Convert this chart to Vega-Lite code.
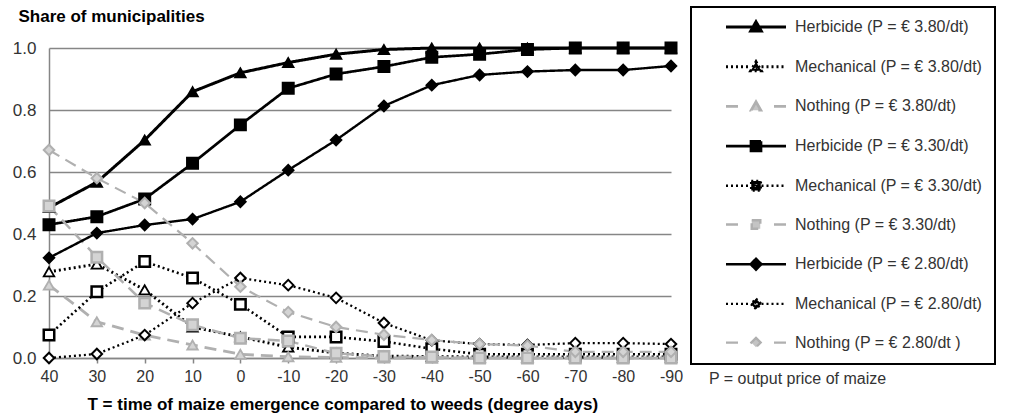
{
  "$schema": "https://vega.github.io/schema/vega-lite/v6.json",
  "width": 622,
  "height": 310,
  "autosize": {"type": "none"},
  "padding": {"left": 49, "top": 48, "right": 355, "bottom": 61},
  "background": "white",
  "config": {
    "font": "Liberation Sans",
    "view": {"stroke": null},
    "legend": {
      "orient": "none",
      "legendX": 642,
      "legendY": -41,
      "labelFontSize": 16,
      "labelFont": "Liberation Sans",
      "labelColor": "#333333",
      "labelOffset": 76,
      "labelLimit": 400,
      "symbolSize": 100,
      "rowPadding": 18.7,
      "padding": 12,
      "strokeColor": "black",
      "strokeWidth": 2,
      "fillColor": "white"
    }
  },
  "title": {
    "text": "P = output price of maize",
    "orient": "bottom",
    "anchor": "start",
    "frame": "group",
    "dx": 660,
    "dy": -45,
    "fontSize": 16,
    "fontWeight": "normal",
    "color": "#333333",
    "font": "Liberation Sans"
  },
  "data": {
    "values": [
      {"series": "Herbicide (P = € 3.80/dt)", "T": 40, "share": 0.485},
      {"series": "Herbicide (P = € 3.80/dt)", "T": 30, "share": 0.567},
      {"series": "Herbicide (P = € 3.80/dt)", "T": 20, "share": 0.703},
      {"series": "Herbicide (P = € 3.80/dt)", "T": 10, "share": 0.859},
      {"series": "Herbicide (P = € 3.80/dt)", "T": 0, "share": 0.92},
      {"series": "Herbicide (P = € 3.80/dt)", "T": -10, "share": 0.953},
      {"series": "Herbicide (P = € 3.80/dt)", "T": -20, "share": 0.98},
      {"series": "Herbicide (P = € 3.80/dt)", "T": -30, "share": 0.995},
      {"series": "Herbicide (P = € 3.80/dt)", "T": -40, "share": 1.0},
      {"series": "Herbicide (P = € 3.80/dt)", "T": -50, "share": 1.0},
      {"series": "Herbicide (P = € 3.80/dt)", "T": -60, "share": 1.0},
      {"series": "Herbicide (P = € 3.80/dt)", "T": -70, "share": 1.0},
      {"series": "Herbicide (P = € 3.80/dt)", "T": -80, "share": 1.0},
      {"series": "Herbicide (P = € 3.80/dt)", "T": -90, "share": 1.0},
      {"series": "Mechanical (P = € 3.80/dt)", "T": 40, "share": 0.278},
      {"series": "Mechanical (P = € 3.80/dt)", "T": 30, "share": 0.303},
      {"series": "Mechanical (P = € 3.80/dt)", "T": 20, "share": 0.22},
      {"series": "Mechanical (P = € 3.80/dt)", "T": 10, "share": 0.1},
      {"series": "Mechanical (P = € 3.80/dt)", "T": 0, "share": 0.068},
      {"series": "Mechanical (P = € 3.80/dt)", "T": -10, "share": 0.035},
      {"series": "Mechanical (P = € 3.80/dt)", "T": -20, "share": 0.016},
      {"series": "Mechanical (P = € 3.80/dt)", "T": -30, "share": 0.006},
      {"series": "Mechanical (P = € 3.80/dt)", "T": -40, "share": 0.005},
      {"series": "Mechanical (P = € 3.80/dt)", "T": -50, "share": 0.003},
      {"series": "Mechanical (P = € 3.80/dt)", "T": -60, "share": 0.003},
      {"series": "Mechanical (P = € 3.80/dt)", "T": -70, "share": 0.003},
      {"series": "Mechanical (P = € 3.80/dt)", "T": -80, "share": 0.003},
      {"series": "Mechanical (P = € 3.80/dt)", "T": -90, "share": 0.003},
      {"series": "Nothing (P = € 3.80/dt)", "T": 40, "share": 0.235},
      {"series": "Nothing (P = € 3.80/dt)", "T": 30, "share": 0.117},
      {"series": "Nothing (P = € 3.80/dt)", "T": 20, "share": 0.074},
      {"series": "Nothing (P = € 3.80/dt)", "T": 10, "share": 0.042},
      {"series": "Nothing (P = € 3.80/dt)", "T": 0, "share": 0.012},
      {"series": "Nothing (P = € 3.80/dt)", "T": -10, "share": 0.004},
      {"series": "Nothing (P = € 3.80/dt)", "T": -20, "share": 0.002},
      {"series": "Nothing (P = € 3.80/dt)", "T": -30, "share": 0},
      {"series": "Nothing (P = € 3.80/dt)", "T": -40, "share": 0},
      {"series": "Nothing (P = € 3.80/dt)", "T": -50, "share": 0},
      {"series": "Nothing (P = € 3.80/dt)", "T": -60, "share": 0},
      {"series": "Nothing (P = € 3.80/dt)", "T": -70, "share": 0},
      {"series": "Nothing (P = € 3.80/dt)", "T": -80, "share": 0},
      {"series": "Nothing (P = € 3.80/dt)", "T": -90, "share": 0},
      {"series": "Herbicide (P = € 3.30/dt)", "T": 40, "share": 0.43},
      {"series": "Herbicide (P = € 3.30/dt)", "T": 30, "share": 0.456},
      {"series": "Herbicide (P = € 3.30/dt)", "T": 20, "share": 0.513},
      {"series": "Herbicide (P = € 3.30/dt)", "T": 10, "share": 0.628},
      {"series": "Herbicide (P = € 3.30/dt)", "T": 0, "share": 0.752},
      {"series": "Herbicide (P = € 3.30/dt)", "T": -10, "share": 0.87},
      {"series": "Herbicide (P = € 3.30/dt)", "T": -20, "share": 0.916},
      {"series": "Herbicide (P = € 3.30/dt)", "T": -30, "share": 0.94},
      {"series": "Herbicide (P = € 3.30/dt)", "T": -40, "share": 0.97},
      {"series": "Herbicide (P = € 3.30/dt)", "T": -50, "share": 0.98},
      {"series": "Herbicide (P = € 3.30/dt)", "T": -60, "share": 0.995},
      {"series": "Herbicide (P = € 3.30/dt)", "T": -70, "share": 1.0},
      {"series": "Herbicide (P = € 3.30/dt)", "T": -80, "share": 1.0},
      {"series": "Herbicide (P = € 3.30/dt)", "T": -90, "share": 1.0},
      {"series": "Mechanical (P = € 3.30/dt)", "T": 40, "share": 0.074},
      {"series": "Mechanical (P = € 3.30/dt)", "T": 30, "share": 0.214},
      {"series": "Mechanical (P = € 3.30/dt)", "T": 20, "share": 0.311},
      {"series": "Mechanical (P = € 3.30/dt)", "T": 10, "share": 0.258},
      {"series": "Mechanical (P = € 3.30/dt)", "T": 0, "share": 0.173},
      {"series": "Mechanical (P = € 3.30/dt)", "T": -10, "share": 0.068},
      {"series": "Mechanical (P = € 3.30/dt)", "T": -20, "share": 0.068},
      {"series": "Mechanical (P = € 3.30/dt)", "T": -30, "share": 0.053},
      {"series": "Mechanical (P = € 3.30/dt)", "T": -40, "share": 0.03},
      {"series": "Mechanical (P = € 3.30/dt)", "T": -50, "share": 0.012},
      {"series": "Mechanical (P = € 3.30/dt)", "T": -60, "share": 0.012},
      {"series": "Mechanical (P = € 3.30/dt)", "T": -70, "share": 0.012},
      {"series": "Mechanical (P = € 3.30/dt)", "T": -80, "share": 0.012},
      {"series": "Mechanical (P = € 3.30/dt)", "T": -90, "share": 0.012},
      {"series": "Nothing (P = € 3.30/dt)", "T": 40, "share": 0.49},
      {"series": "Nothing (P = € 3.30/dt)", "T": 30, "share": 0.325},
      {"series": "Nothing (P = € 3.30/dt)", "T": 20, "share": 0.177},
      {"series": "Nothing (P = € 3.30/dt)", "T": 10, "share": 0.107},
      {"series": "Nothing (P = € 3.30/dt)", "T": 0, "share": 0.064},
      {"series": "Nothing (P = € 3.30/dt)", "T": -10, "share": 0.055},
      {"series": "Nothing (P = € 3.30/dt)", "T": -20, "share": 0.015},
      {"series": "Nothing (P = € 3.30/dt)", "T": -30, "share": 0.005},
      {"series": "Nothing (P = € 3.30/dt)", "T": -40, "share": 0.003},
      {"series": "Nothing (P = € 3.30/dt)", "T": -50, "share": 0},
      {"series": "Nothing (P = € 3.30/dt)", "T": -60, "share": 0},
      {"series": "Nothing (P = € 3.30/dt)", "T": -70, "share": 0},
      {"series": "Nothing (P = € 3.30/dt)", "T": -80, "share": 0},
      {"series": "Nothing (P = € 3.30/dt)", "T": -90, "share": 0},
      {"series": "Herbicide (P = € 2.80/dt)", "T": 40, "share": 0.323},
      {"series": "Herbicide (P = € 2.80/dt)", "T": 30, "share": 0.403},
      {"series": "Herbicide (P = € 2.80/dt)", "T": 20, "share": 0.429},
      {"series": "Herbicide (P = € 2.80/dt)", "T": 10, "share": 0.448},
      {"series": "Herbicide (P = € 2.80/dt)", "T": 0, "share": 0.504},
      {"series": "Herbicide (P = € 2.80/dt)", "T": -10, "share": 0.606},
      {"series": "Herbicide (P = € 2.80/dt)", "T": -20, "share": 0.703},
      {"series": "Herbicide (P = € 2.80/dt)", "T": -30, "share": 0.813},
      {"series": "Herbicide (P = € 2.80/dt)", "T": -40, "share": 0.88},
      {"series": "Herbicide (P = € 2.80/dt)", "T": -50, "share": 0.913},
      {"series": "Herbicide (P = € 2.80/dt)", "T": -60, "share": 0.924},
      {"series": "Herbicide (P = € 2.80/dt)", "T": -70, "share": 0.929},
      {"series": "Herbicide (P = € 2.80/dt)", "T": -80, "share": 0.929},
      {"series": "Herbicide (P = € 2.80/dt)", "T": -90, "share": 0.942},
      {"series": "Mechanical (P = € 2.80/dt)", "T": 40, "share": 0},
      {"series": "Mechanical (P = € 2.80/dt)", "T": 30, "share": 0.013},
      {"series": "Mechanical (P = € 2.80/dt)", "T": 20, "share": 0.074},
      {"series": "Mechanical (P = € 2.80/dt)", "T": 10, "share": 0.177},
      {"series": "Mechanical (P = € 2.80/dt)", "T": 0, "share": 0.258},
      {"series": "Mechanical (P = € 2.80/dt)", "T": -10, "share": 0.235},
      {"series": "Mechanical (P = € 2.80/dt)", "T": -20, "share": 0.194},
      {"series": "Mechanical (P = € 2.80/dt)", "T": -30, "share": 0.113},
      {"series": "Mechanical (P = € 2.80/dt)", "T": -40, "share": 0.057},
      {"series": "Mechanical (P = € 2.80/dt)", "T": -50, "share": 0.045},
      {"series": "Mechanical (P = € 2.80/dt)", "T": -60, "share": 0.042},
      {"series": "Mechanical (P = € 2.80/dt)", "T": -70, "share": 0.048},
      {"series": "Mechanical (P = € 2.80/dt)", "T": -80, "share": 0.048},
      {"series": "Mechanical (P = € 2.80/dt)", "T": -90, "share": 0.045},
      {"series": "Nothing (P = € 2.80/dt )", "T": 40, "share": 0.671},
      {"series": "Nothing (P = € 2.80/dt )", "T": 30, "share": 0.58},
      {"series": "Nothing (P = € 2.80/dt )", "T": 20, "share": 0.5},
      {"series": "Nothing (P = € 2.80/dt )", "T": 10, "share": 0.37},
      {"series": "Nothing (P = € 2.80/dt )", "T": 0, "share": 0.23},
      {"series": "Nothing (P = € 2.80/dt )", "T": -10, "share": 0.148},
      {"series": "Nothing (P = € 2.80/dt )", "T": -20, "share": 0.1},
      {"series": "Nothing (P = € 2.80/dt )", "T": -30, "share": 0.075},
      {"series": "Nothing (P = € 2.80/dt )", "T": -40, "share": 0.058},
      {"series": "Nothing (P = € 2.80/dt )", "T": -50, "share": 0.045},
      {"series": "Nothing (P = € 2.80/dt )", "T": -60, "share": 0.04},
      {"series": "Nothing (P = € 2.80/dt )", "T": -70, "share": 0.02},
      {"series": "Nothing (P = € 2.80/dt )", "T": -80, "share": 0.02},
      {"series": "Nothing (P = € 2.80/dt )", "T": -90, "share": 0.02}
    ]
  },
  "layer": [
    {
      "transform": [{"filter": {"field": "series", "equal": "none"}}],
      "mark": {"type": "point", "opacity": 1},
      "encoding": {
        "shape": {
          "field": "series", "type": "nominal",
          "scale": {
            "domain": ["Herbicide (P = € 3.80/dt)", "Mechanical (P = € 3.80/dt)", "Nothing (P = € 3.80/dt)", "Herbicide (P = € 3.30/dt)", "Mechanical (P = € 3.30/dt)", "Nothing (P = € 3.30/dt)", "Herbicide (P = € 2.80/dt)", "Mechanical (P = € 2.80/dt)", "Nothing (P = € 2.80/dt )"],
            "range": [
              "M3,0H15M9,-1.05L10.05,0.8L7.95,0.8Z",
              "M3,0H7.9M10.1,0H15M9,-1L10.05,0.8L7.95,0.8ZM9,-0.2L8.65,0.45L9.35,0.45Z",
              "M3,0H6.8M12.6,0H15M9,-0.9L9.95,0.75L8.05,0.75Z",
              "M3,0H15M8,-0.95H10V0.95H8Z",
              "M3,0H7.9M10.1,0H15M8.05,-0.95H9.95V0.95H8.05ZM8.75,-0.25V0.25H9.25V-0.25Z",
              "M3,0H6.8M12.6,0H15M8.15,-0.85H9.85V0.85H8.15Z",
              "M3,0H15M9,-1.1L10.1,0L9,1.1L7.9,0Z",
              "M3,0H7.9M10.1,0H15M9,-1.05L10.05,0L9,1.05L7.95,0ZM9,-0.4L8.6,0L9,0.4L9.4,0Z",
              "M3,0H6.8M12.6,0H15M9,-0.95L9.95,0L9,0.95L8.05,0Z"
            ]
          },
          "legend": {"orient": "none", "legendX": 642, "legendY": -41, "title": null}
        },
        "stroke": {
          "field": "series", "type": "nominal",
          "scale": {
            "domain": ["Herbicide (P = € 3.80/dt)", "Mechanical (P = € 3.80/dt)", "Nothing (P = € 3.80/dt)", "Herbicide (P = € 3.30/dt)", "Mechanical (P = € 3.30/dt)", "Nothing (P = € 3.30/dt)", "Herbicide (P = € 2.80/dt)", "Mechanical (P = € 2.80/dt)", "Nothing (P = € 2.80/dt )"],
            "range": ["#000000", "#000000", "#b0b0b0", "#000000", "#000000", "#b0b0b0", "#000000", "#000000", "#b0b0b0"]
          },
          "legend": {"orient": "none", "legendX": 642, "legendY": -41, "title": null}
        },
        "fill": {
          "field": "series", "type": "nominal",
          "scale": {
            "domain": ["Herbicide (P = € 3.80/dt)", "Mechanical (P = € 3.80/dt)", "Nothing (P = € 3.80/dt)", "Herbicide (P = € 3.30/dt)", "Mechanical (P = € 3.30/dt)", "Nothing (P = € 3.30/dt)", "Herbicide (P = € 2.80/dt)", "Mechanical (P = € 2.80/dt)", "Nothing (P = € 2.80/dt )"],
            "range": ["#000000", "#000000", "#c4c4c4", "#000000", "#000000", "#c4c4c4", "#000000", "#000000", "#c4c4c4"]
          },
          "legend": {"orient": "none", "legendX": 642, "legendY": -41, "title": null}
        },
        "strokeDash": {
          "field": "series", "type": "nominal",
          "scale": {
            "domain": ["Herbicide (P = € 3.80/dt)", "Mechanical (P = € 3.80/dt)", "Nothing (P = € 3.80/dt)", "Herbicide (P = € 3.30/dt)", "Mechanical (P = € 3.30/dt)", "Nothing (P = € 3.30/dt)", "Herbicide (P = € 2.80/dt)", "Mechanical (P = € 2.80/dt)", "Nothing (P = € 2.80/dt )"],
            "range": [[1, 0], [2, 3], [12, 7], [1, 0], [2, 3], [12, 7], [1, 0], [2, 3], [12, 7]]
          },
          "legend": {"orient": "none", "legendX": 642, "legendY": -41, "title": null}
        },
        "strokeWidth": {
          "field": "series", "type": "nominal",
          "scale": {
            "domain": ["Herbicide (P = € 3.80/dt)", "Mechanical (P = € 3.80/dt)", "Nothing (P = € 3.80/dt)", "Herbicide (P = € 3.30/dt)", "Mechanical (P = € 3.30/dt)", "Nothing (P = € 3.30/dt)", "Herbicide (P = € 2.80/dt)", "Mechanical (P = € 2.80/dt)", "Nothing (P = € 2.80/dt )"],
            "range": [3, 2.2, 3.5, 3, 2.2, 3.5, 3, 2.2, 3.5]
          },
          "legend": {"orient": "none", "legendX": 642, "legendY": -41, "title": null}
        }
      }
    },
    {
      "mark": {"type": "line"},
      "encoding": {
        "x": {
          "field": "T", "type": "ordinal",
          "sort": [40, 30, 20, 10, 0, -10, -20, -30, -40, -50, -60, -70, -80, -90],
          "scale": {"type": "point", "padding": 0},
          "axis": {
            "title": "T = time of maize emergence compared to weeds (degree days)",
            "titleFontSize": 17, "titleFontWeight": "bold", "titleColor": "black",
            "titleAlign": "left", "titleX": 38, "titleY": 46, "titleBaseline": "middle",
            "labelFontSize": 16, "labelColor": "#333333", "labelPadding": 5, "labelAngle": 0,
            "tickSize": 5, "tickColor": "#868686", "tickWidth": 1.5,
            "domainColor": "#868686", "domainWidth": 1.5, "grid": false
          }
        },
        "y": {
          "field": "share", "type": "quantitative",
          "scale": {"domain": [0, 1]},
          "axis": {
            "title": "Share of municipalities",
            "titleAngle": 0, "titleAlign": "left", "titleBaseline": "middle",
            "titleX": -31, "titleY": -32,
            "titleFontSize": 17, "titleFontWeight": "bold", "titleColor": "black",
            "values": [0, 0.2, 0.4, 0.6, 0.8, 1.0], "format": ".1f",
            "labelFontSize": 17, "labelColor": "#333333", "labelPadding": 13,
            "ticks": false, "domainColor": "#868686", "domainWidth": 1.5,
            "gridColor": "#868686", "gridWidth": 1.5
          }
        },
        "stroke": {"field": "series", "type": "nominal"},
        "strokeDash": {"field": "series", "type": "nominal"},
        "strokeWidth": {"field": "series", "type": "nominal"}
      }
    },
    {
      "transform": [{"filter": {"field": "series", "oneOf": ["Herbicide (P = € 3.80/dt)", "Mechanical (P = € 3.80/dt)", "Nothing (P = € 3.80/dt)"]}}],
      "mark": {"type": "point", "shape": "triangle-up", "size": 110, "strokeWidth": 1.8, "opacity": 1, "filled": true},
      "encoding": {
        "x": {"field": "T", "type": "ordinal", "sort": [40, 30, 20, 10, 0, -10, -20, -30, -40, -50, -60, -70, -80, -90]},
        "y": {"field": "share", "type": "quantitative"},
        "stroke": {"field": "series", "type": "nominal"},
        "color": {
          "field": "series", "type": "nominal", "legend": null,
          "scale": {
            "domain": ["Herbicide (P = € 3.80/dt)", "Mechanical (P = € 3.80/dt)", "Nothing (P = € 3.80/dt)", "Herbicide (P = € 3.30/dt)", "Mechanical (P = € 3.30/dt)", "Nothing (P = € 3.30/dt)", "Herbicide (P = € 2.80/dt)", "Mechanical (P = € 2.80/dt)", "Nothing (P = € 2.80/dt )"],
            "range": ["#000000", "#ffffff", "#d4d4d4", "#000000", "#ffffff", "#d4d4d4", "#000000", "#ffffff", "#d4d4d4"]
          }
        }
      }
    },
    {
      "transform": [{"filter": {"field": "series", "oneOf": ["Herbicide (P = € 3.30/dt)", "Mechanical (P = € 3.30/dt)", "Nothing (P = € 3.30/dt)"]}}],
      "mark": {"type": "point", "shape": "square", "size": 110, "strokeWidth": 2.5, "opacity": 1, "filled": true},
      "encoding": {
        "x": {"field": "T", "type": "ordinal", "sort": [40, 30, 20, 10, 0, -10, -20, -30, -40, -50, -60, -70, -80, -90]},
        "y": {"field": "share", "type": "quantitative"},
        "stroke": {"field": "series", "type": "nominal"},
        "color": {"field": "series", "type": "nominal", "legend": null}
      }
    },
    {
      "transform": [{"filter": {"field": "series", "oneOf": ["Herbicide (P = € 2.80/dt)", "Mechanical (P = € 2.80/dt)", "Nothing (P = € 2.80/dt )"]}}],
      "mark": {"type": "point", "shape": "diamond", "size": 110, "strokeWidth": 2, "opacity": 1, "filled": true},
      "encoding": {
        "x": {"field": "T", "type": "ordinal", "sort": [40, 30, 20, 10, 0, -10, -20, -30, -40, -50, -60, -70, -80, -90]},
        "y": {"field": "share", "type": "quantitative"},
        "stroke": {"field": "series", "type": "nominal"},
        "color": {"field": "series", "type": "nominal", "legend": null}
      }
    }
  ]
}
